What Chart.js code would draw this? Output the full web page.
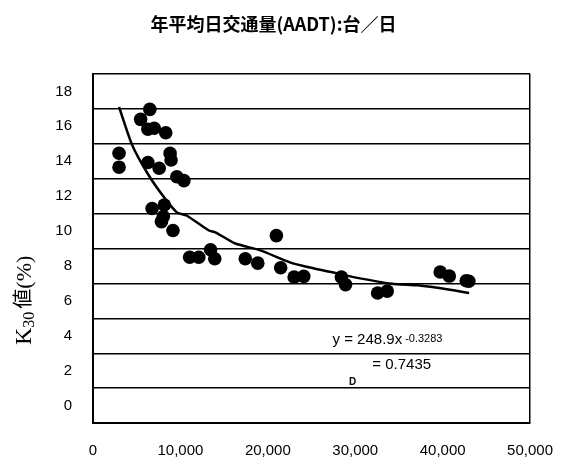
<!DOCTYPE html>
<html>
<head>
<meta charset="utf-8">
<script src="https://cdn.jsdelivr.net/npm/chart.js@4.4.1/dist/chart.umd.min.js"></script>
<style>
  html, body { margin: 0; padding: 0; background: #fff; }
  #wrap { width: 572px; height: 458px; }
</style>
</head>
<body>
<div id="wrap"><canvas id="c"></canvas></div>
<script>
// observed sites: AADT (veh/day) and K30 (%)
const pointAADT = [6500, 5450, 6280, 7000, 8320, 2980, 2980, 6280, 7570, 8820, 8930, 9590, 10400,
  6760, 8160, 8050, 7830, 9150, 20980, 11060, 12100, 13450, 13930, 17420, 18850, 21470,
  23010, 24110, 28410, 28890, 32560, 33660, 39720, 40760, 42700, 43000];
const pointK30 = [17.97, 17.4, 16.83, 16.89, 16.63, 15.46, 14.66, 14.93, 14.6, 15.45, 15.07, 14.11, 13.89,
  12.29, 12.49, 11.83, 11.54, 11.03, 10.74, 9.5, 9.5, 9.93, 9.41, 9.41, 9.16, 8.9,
  8.36, 8.4, 8.36, 7.93, 7.45, 7.56, 8.65, 8.42, 8.15, 8.12];

// power trend line as drawn
const trendAADT = [2980, 4440, 6280, 8130, 9590, 10700, 13260, 14000, 16210, 19150, 22460,
  24290, 27230, 29800, 34210, 37160, 40830, 43030];
const trendK30 = [18.11, 15.98, 14.27, 12.93, 12.07, 11.89, 11.03, 10.93, 10.3, 9.89, 9.22,
  8.97, 8.65, 8.36, 7.98, 7.89, 7.64, 7.45];

const chartTitle = '年平均日交通量(AADT):台／日';
const fitEquation = 'y = 248.9x';
const fitExponent = '-0.3283';
const fitR2 = '= 0.7435';

const textPlugin = {
  id: 'extraText',
  afterDraw(chart) {
    const { ctx, scales: { x, y } } = chart;
    ctx.save();
    ctx.fillStyle = '#000';
    ctx.textBaseline = 'middle';
    ctx.textAlign = 'left';

    // regression equation
    ctx.font = '15px "Liberation Sans"';
    const ex = x.getPixelForValue(27400), ey = y.getPixelForValue(4.75);
    ctx.fillText(fitEquation, ex, ey);
    const w = ctx.measureText(fitEquation).width;
    ctx.font = '11px "Liberation Sans"';
    ctx.fillText(fitExponent, ex + w + 3, ey - 1);
    ctx.font = '15px "Liberation Sans"';
    ctx.fillText(fitR2, x.getPixelForValue(31950), y.getPixelForValue(3.31));
    ctx.font = 'bold 10px "Liberation Sans"';
    ctx.fillText('D', x.getPixelForValue(29300), y.getPixelForValue(2.34));

    // y axis title: K30 値(%)
    ctx.textBaseline = 'alphabetic';
    ctx.translate(31, 345);
    ctx.rotate(-Math.PI / 2);
    let cx = 0;
    ctx.font = '24px "Liberation Serif"';
    ctx.fillText('K', cx, 0);
    cx += ctx.measureText('K').width;
    ctx.font = '16px "Liberation Serif"';
    ctx.fillText('30', cx, 3);
    cx += ctx.measureText('30').width + 3;
    ctx.font = '20px "Noto Sans CJK JP"';
    ctx.fillText('値', cx, -1);
    cx += ctx.measureText('値').width;
    ctx.font = '22px "Liberation Serif"';
    ctx.fillText('(%)', cx, 0);
    ctx.restore();
  }
};

new Chart(document.getElementById('c'), {
  type: 'scatter',
  data: {
    datasets: [
      {
        data: pointAADT.map((v, i) => ({ x: v, y: pointK30[i] })),
        backgroundColor: '#000',
        borderWidth: 0,
        pointRadius: 6.8
      },
      {
        data: trendAADT.map((v, i) => ({ x: v, y: trendK30[i] })),
        showLine: true,
        borderColor: '#000',
        borderWidth: 2.5,
        pointRadius: 0,
        tension: 0.2,
        fill: false
      }
    ]
  },
  options: {
    responsive: true,
    maintainAspectRatio: false,
    animation: false,
    layout: { padding: { left: 0, right: 25, top: 0, bottom: 0 } },
    plugins: {
      legend: { display: false },
      tooltip: { enabled: false },
      title: {
        display: true,
        text: chartTitle,
        color: '#000',
        font: { family: '"Noto Sans CJK JP"', size: 18, weight: 'bold' },
        padding: { top: 13, bottom: 39.4 }
      }
    },
    scales: {
      x: {
        type: 'linear',
        min: 0,
        max: 50000,
        afterFit(s) { s.height = 35; },
        ticks: {
          stepSize: 10000,
          padding: 19,
          color: '#000',
          maxRotation: 0,
          font: { family: '"Liberation Sans"', size: 15 },
          callback: v => v.toLocaleString('en-US')
        },
        grid: {
          drawTicks: false,
          lineWidth: 1.5,
          color: c => (c.tick && c.tick.value === 50000) ? '#000' : 'rgba(0,0,0,0)'
        },
        border: { color: '#000', width: 2 }
      },
      y: {
        min: 0,
        max: 20,
        afterFit(s) { s.width = 93; },
        ticks: {
          stepSize: 2,
          padding: 21,
          labelOffset: -17.5,
          color: '#000',
          font: { family: '"Liberation Sans"', size: 15 },
          callback: v => v === 20 ? '' : v
        },
        grid: { drawTicks: false, color: '#000', lineWidth: 1.4 },
        border: { color: '#000', width: 2 }
      }
    }
  },
  plugins: [textPlugin]
});
</script>
</body>
</html>
